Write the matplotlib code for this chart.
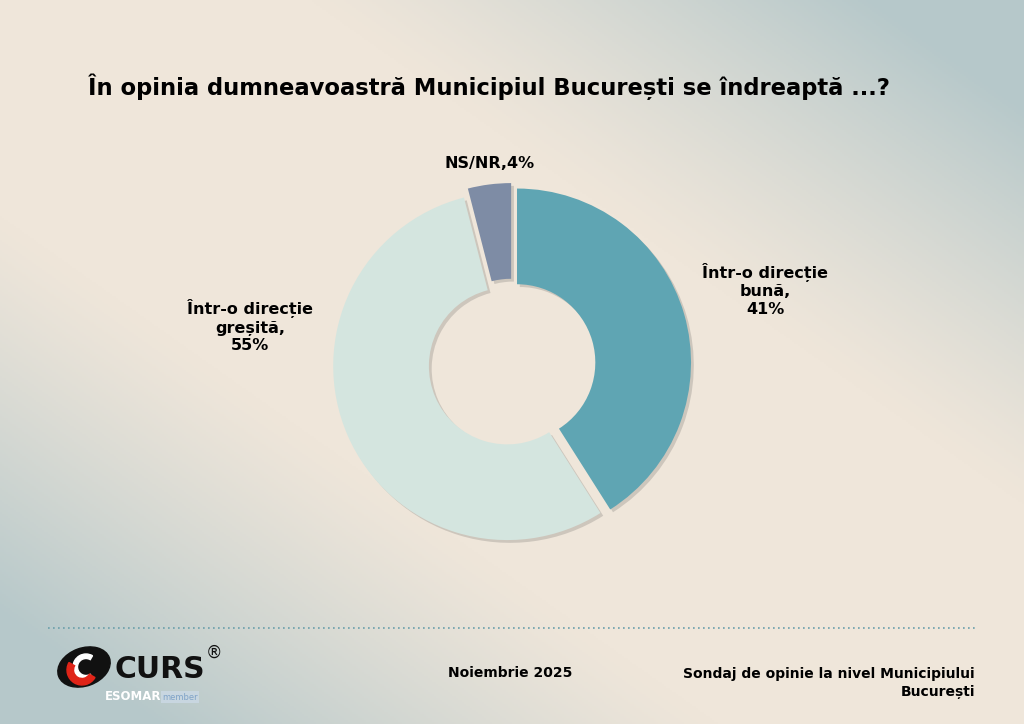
import numpy as np
import matplotlib.pyplot as plt
from matplotlib import patheffects as pe
from matplotlib.patches import Ellipse, Wedge
from matplotlib.colors import to_rgb

plt.rcParams['font.family'] = ['DejaVu Sans']

# data
labels = ['Într-o direcție\nbună,\n41%', 'Într-o direcție\ngreșită,\n55%', 'NS/NR,4%']
values = [41, 55, 4]
colors = ['#5fa5b3', '#d4e5df', '#7e8ca5']

title = 'În opinia dumneavoastră Municipiul București se îndreaptă ...?'
footer_date = 'Noiembrie 2025'
footer_src = 'Sondaj de opinie la nivel Municipiului\nBucurești'

W, H = 1024, 724
fig = plt.figure(figsize=(W / 100, H / 100), dpi=100)
ax = fig.add_axes([0, 0, 1, 1])
ax.set_xlim(0, W)
ax.set_ylim(0, H)
ax.axis('off')

# background: warm diagonal band, blue-grey corners
yy, xx = np.mgrid[0:H:2, 0:W:2]
u = xx / W
v = 1 - yy / H
d = u - v
t = np.clip((np.abs(d) - 0.3) / 0.55, 0, 1) ** 1.2
warm = np.array(to_rgb('#efe6da'))
blue = np.array(to_rgb('#b6c8ca'))
img = warm[None, None, :] * (1 - t[..., None]) + blue[None, None, :] * t[..., None]
ax.imshow(img, extent=(0, W, 0, H), origin='lower', zorder=0, aspect='auto')

# donut in its own axes, centred at (512, 364) px from top, radius ~174 px
cx, cy, R = 512, 364, 174
half = R * 1.15
pax = fig.add_axes([(cx - half) / W, (H - cy - half) / H, 2 * half / W, 2 * half / H])
wedges, _ = pax.pie(values, colors=colors, startangle=90, counterclock=False,
                    radius=1, explode=[0.03, 0.03, 0.04],
                    wedgeprops=dict(width=0.55, linewidth=0))
pax.set_xlim(-1.15, 1.15)
pax.set_ylim(-1.15, 1.15)
pax.axis('off')
for w in wedges:
    w.set_path_effects([pe.SimplePatchShadow(offset=(2, -2), alpha=0.22, shadow_rgbFace='#555555'),
                        pe.Normal()])

bold = dict(fontweight='bold', color='black', zorder=5)
ax.text(765, H - 290, labels[0], ha='center', va='center', fontsize=11.5, linespacing=1.2, **bold)
ax.text(250, H - 326, labels[1], ha='center', va='center', fontsize=11.5, linespacing=1.2, **bold)
ax.text(490, H - 163, labels[2], ha='center', va='center', fontsize=11.5, **bold)

ax.text(88, H - 87, title, ha='left', va='center', fontsize=16.3, **bold)

# footer
ax.plot([48, 975], [H - 628, H - 628], color='#6a9faa', linestyle=(0, (1, 2)), linewidth=1.2, zorder=4)
ax.text(448, H - 673, footer_date, ha='left', va='center', fontsize=10, **bold)
ax.text(975, H - 683, footer_src, ha='right', va='center', fontsize=10, linespacing=1.3,
        multialignment='right', **bold)

# logo
ax.add_patch(Ellipse((84, H - 667), 54, 38, angle=20, color='#111111', zorder=5))
ax.add_patch(Wedge((86, H - 667), 13, 60, 300, width=4.5, color='white', zorder=6))
ax.add_patch(Wedge((82, H - 670), 15, 150, 330, width=6.5, color='#e02418', zorder=7))
ax.text(114, H - 669, 'CURS', ha='left', va='center', fontsize=21.5, fontweight='heavy',
        color='#111111', zorder=5)
ax.text(206, H - 653, '®', ha='left', va='center', fontsize=12, color='#111111', zorder=5)
ax.text(105, H - 697, 'ESOMAR', ha='left', va='center', fontsize=8.5, fontweight='bold',
        color='white', zorder=5)
ax.text(162, H - 697, 'member', ha='left', va='center', fontsize=6, color='#7fa3c8', zorder=5,
        bbox=dict(boxstyle='square,pad=0.15', fc='#c8d6e0', ec='none'))

fig.savefig('out.png', dpi=100)
